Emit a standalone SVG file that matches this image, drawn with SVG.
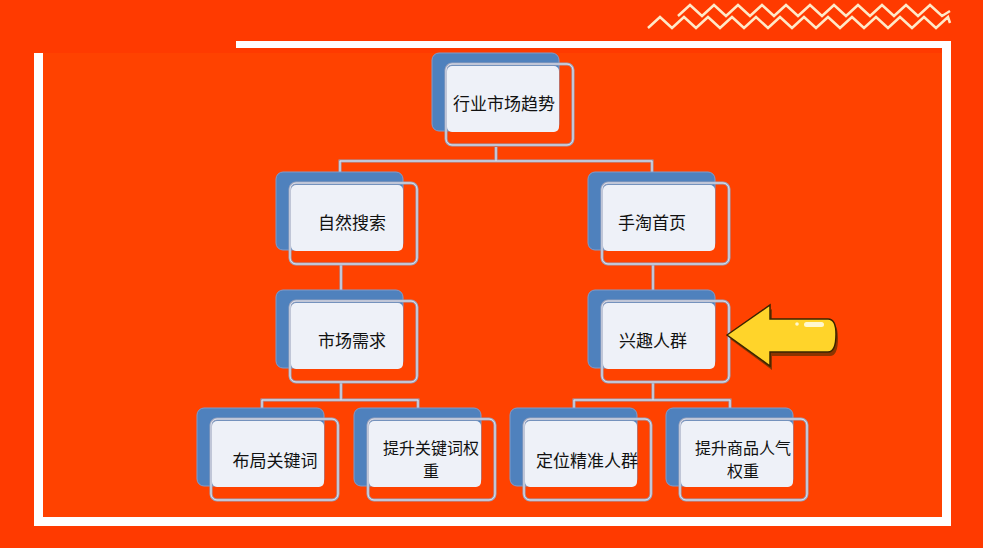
<svg xmlns="http://www.w3.org/2000/svg" width="983" height="548" viewBox="0 0 983 548">
<style>
.blue{fill:#4f81bd;stroke:#7f9ccc;stroke-width:1}
.outl{fill:none;stroke:#9aa3bd;stroke-width:3}
.outl2{fill:none;stroke:#e6e9f2;stroke-width:1}
.light{fill:#eef1f8}
.t{font-family:"Noto Sans CJK SC",sans-serif;font-size:17px;fill:#111;text-anchor:middle}
.t2{font-family:"Noto Sans CJK SC",sans-serif;font-size:16px;fill:#111;text-anchor:middle}
.c{fill:none;stroke:#9aa3bd;stroke-width:3}
.c2{fill:none;stroke:#e6e9f2;stroke-width:1}
.zz{fill:none;stroke:#ffe9c8;stroke-width:2.5}
</style>
<defs>
<g id="box">
<rect class="blue" x="0" y="0" width="127" height="78" rx="7"/>
<rect class="outl" x="14" y="11" width="127" height="81" rx="6"/>
<rect class="outl2" x="14" y="11" width="127" height="81" rx="6"/>
<rect class="light" x="15" y="13" width="112" height="66" rx="5"/>
</g>
</defs>
<rect width="983" height="548" fill="#ff3a00"/>
<rect x="43" y="53" width="900" height="464" fill="#ff4200"/>
<g id="frame" fill="#fff">
<rect x="236" y="41" width="715" height="7"/>
<rect x="34" y="53" width="9" height="473"/>
<rect x="34" y="517" width="917" height="9"/>
<rect x="942" y="41" width="9" height="485"/>
</g>
<g id="zigzag">
<polyline class="zz" points="678,16 690,5 702,16 714,5 726,16 738,5 750,16 762,5 774,16 786,5 798,16 810,5 822,16 834,5 846,16 858,5 870,16 882,5 894,16 906,5 918,16 930,5 942,16 950,11"/>
<polyline class="zz" points="648,28 660,17 672,28 684,17 696,28 708,17 720,28 732,17 744,28 756,17 768,28 780,17 792,28 804,17 816,28 828,17 840,28 852,17 864,28 876,17 888,28 900,17 912,28 924,17 936,28 948,17 950,23"/>
</g>
<g id="connectors">
<path class="c" d="M496,147 V161 M340,172 V161 H652 V172 M341,265 V290 M653,265 V290 M341,383 V400 M262,408 V400 H418 V408 M653,383 V400 M574,408 V400 H730 V408"/>
<path class="c2" d="M496,147 V161 M340,172 V161 H652 V172 M341,265 V290 M653,265 V290 M341,383 V400 M262,408 V400 H418 V408 M653,383 V400 M574,408 V400 H730 V408"/>
</g>
<g id="n1"><use href="#box" x="432" y="53"/><text class="t" x="504" y="110">行业市场趋势</text></g>
<g id="n2"><use href="#box" x="276" y="172"/><text class="t" x="352" y="229">自然搜索</text></g>
<g id="n3"><use href="#box" x="588" y="172"/><text class="t" x="652" y="229">手淘首页</text></g>
<g id="n4"><use href="#box" x="276" y="290"/><text class="t" x="352" y="347">市场需求</text></g>
<g id="n5"><use href="#box" x="588" y="290"/><text class="t" x="653" y="347">兴趣人群</text></g>
<g id="n6"><use href="#box" x="197" y="408"/><text class="t" x="275" y="467">布局关键词</text></g>
<g id="n7"><use href="#box" x="354" y="408"/><text class="t2" x="431" y="454">提升关键词权</text><text class="t2" x="431" y="477">重</text></g>
<g id="n8"><use href="#box" x="510" y="408"/><text class="t" x="587" y="467">定位精准人群</text></g>
<g id="n9"><use href="#box" x="666" y="408"/><text class="t2" x="743" y="454">提升商品人气</text><text class="t2" x="743" y="477">权重</text></g>
<g id="arrow">
<path d="M730,339 L772,309 L772,323 L830,323 Q838,323 838,338 Q838,356 830,356 L772,356 L772,370 Z" fill="#5a3000" opacity="0.7"/>
<path d="M727,335 L770,305 L770,319 L828,319 Q836,319 836,334 Q836,352 828,352 L770,352 L770,366 Z" fill="#ffd42a" stroke="#3a2400" stroke-width="1.5"/>
<rect x="804" y="322" width="20" height="5" rx="2.5" fill="#fff8d0"/>
<circle cx="797" cy="324" r="1.8" fill="#fff8d0"/>
</g>
</svg>
